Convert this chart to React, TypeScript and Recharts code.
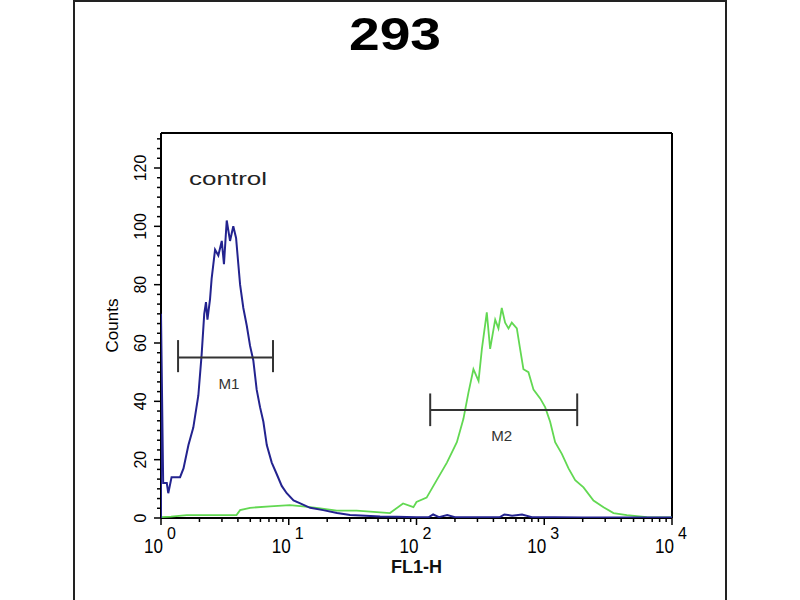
import React from 'react';
import { LineChart, Line, XAxis, YAxis, ReferenceLine, ReferenceDot, CartesianGrid } from 'recharts';

const TITLE = '293';
const X_LABEL = 'FL1-H';
const Y_LABEL = 'Counts';

const BLUE_X = [1, 1, 1.04, 1.11, 1.14, 1.21, 1.41, 1.5, 1.64, 1.79, 1.96, 2.08, 2.18, 2.25, 2.31, 2.42, 2.49, 2.65, 2.81, 2.99, 3.11, 3.27, 3.47, 3.68, 3.87, 4.03, 4.16, 4.41, 4.69, 4.98, 5.28, 5.61, 5.96, 6.33, 6.73, 7.36, 8.06, 8.81, 9.64, 10.9, 12.3, 14.7, 18.6, 23.9, 30.2, 40, 51.9, 70, 100, 125, 135, 150, 174, 200, 300, 450, 487, 560, 670, 800, 1200, 2000, 4000, 10000];
const BLUE_Y = [0, 70, 12, 12, 8.5, 14, 14, 17, 25, 31, 42, 56, 70, 74, 68, 75, 82, 92, 90, 95, 87, 102, 95, 100, 96, 87, 80, 72, 66, 59, 54, 44, 38, 33, 25, 19, 15, 11, 8.5, 6, 5, 3.5, 2.7, 1.7, 1, 0.8, 0.5, 0.4, 0.3, 0.3, 1.2, 0.3, 1, 0.3, 0.3, 0.3, 1.2, 0.8, 1.2, 0.3, 0.3, 0.2, 0.2, 0.2];

const GREEN_X = [1, 1.2, 1.59, 2.5, 3.9, 4.16, 4.98, 7.14, 10.2, 12.9, 16.5, 23.8, 34, 48.9, 62, 78.5, 94.6, 100, 120, 144, 173, 207, 233, 255, 279, 306, 325, 355, 377, 413, 438, 465, 494, 525, 557, 610, 647, 687, 752, 824, 929, 1016, 1112, 1217, 1373, 1549, 1747, 2029, 2429, 2910, 3484, 4433, 6355, 9680, 10000];
const GREEN_Y = [0.3, 0.5, 1, 1, 1, 2.7, 3.5, 4, 4.4, 4, 3.5, 2.5, 2.5, 2, 1.7, 5, 3.7, 5.5, 7, 13, 19, 26, 34, 43, 51, 47, 58, 70.5, 58, 68, 65, 72, 67, 65, 67, 65, 58, 51, 50, 44, 41, 38, 33, 26, 22, 17, 13, 10.5, 6, 3.7, 1.7, 1, 0.3, 0.2, 0.2];

const X_DECADES = [1, 10, 100, 1000, 10000];
const X_EXPONENTS = ['0', '1', '2', '3', '4'];
const Y_MAJOR = [0, 20, 40, 60, 80, 100, 120];
const Y_MAX = 132;

const M1 = { x1: 1.36, x2: 7.53, y: 55, lo: 50, hi: 61, lx: 3.4, ly: 46, name: 'M1' };
const M2 = { x1: 128, x2: 1811, y: 37, lo: 31.5, hi: 42.7, lx: 465, ly: 28, name: 'M2' };
const CONTROL = { x: 3.35, y: 116.5, text: 'control' };

const blueData = BLUE_X.map((x, i) => ({ x, y: BLUE_Y[i] }));
const greenData = GREEN_X.map((x, i) => ({ x, y: GREEN_Y[i] }));

const xTicks: number[] = [];
X_DECADES.forEach((d, i) => {
  if (i < X_DECADES.length - 1) {
    for (let k = 1; k <= 9; k++) xTicks.push(d * k);
  } else xTicks.push(d);
});
const yTicks: number[] = [];
for (let v = 0; v <= 130.01; v += 10 / 3) yTicks.push(Math.round(v * 1000) / 1000);

const FONT = '"Liberation Sans", Arial, sans-serif';

const XTick = (props: any) => {
  const { x, y, payload } = props;
  const v = payload.value;
  const idx = X_DECADES.indexOf(v);
  const major = idx >= 0;
  return (
    <g>
      <line x1={x} x2={x} y1={y} y2={y + (major ? 7 : 4)} stroke="#000" strokeWidth={1.5} />
      {major && (
        <g fontFamily={FONT} fill="#000">
          <text x={x - 17} y={y + 35} fontSize={20} textLength={19} lengthAdjust="spacingAndGlyphs">10</text>
          <text x={x + 6} y={y + 21} fontSize={16} textAnchor="start">{X_EXPONENTS[idx]}</text>
        </g>
      )}
    </g>
  );
};

const YTick = (props: any) => {
  const { x, y, payload } = props;
  const v = payload.value;
  const major = Y_MAJOR.some((m) => Math.abs(m - v) < 0.01);
  const lx = x - 15;
  return (
    <g>
      <line x1={x} x2={x - (major ? 7 : 4)} y1={y} y2={y} stroke="#000" strokeWidth={1.5} />
      {major && (
        <text x={lx} y={y} fontFamily={FONT} fontSize={16} textAnchor="middle" fill="#000" transform={`rotate(-90 ${lx} ${y})`}>
          {String(Math.round(v))}
        </text>
      )}
    </g>
  );
};

const stretchedLabel = (text: string, fontSize: number, length: number, color: string) => (props: any) => {
  const vb = props.viewBox || {};
  const cx = (vb.x ?? 0) + (vb.width ?? 0) / 2;
  const cy = (vb.y ?? 0) + (vb.height ?? 0) / 2;
  return (
    <text
      x={cx - length / 2}
      y={cy}
      dy="0.35em"
      fontFamily={FONT}
      fontSize={fontSize}
      fill={color}
      textLength={length}
      lengthAdjust="spacingAndGlyphs"
    >
      {text}
    </text>
  );
};

const MarkerBar = (m: typeof M1) => [
  <ReferenceLine key={m.name + 'h'} segment={[{ x: m.x1, y: m.y }, { x: m.x2, y: m.y }]} stroke="#333" strokeWidth={2} ifOverflow="visible" />,
  <ReferenceLine key={m.name + 'l'} segment={[{ x: m.x1, y: m.lo }, { x: m.x1, y: m.hi }]} stroke="#333" strokeWidth={2} ifOverflow="visible" />,
  <ReferenceLine key={m.name + 'r'} segment={[{ x: m.x2, y: m.lo }, { x: m.x2, y: m.hi }]} stroke="#333" strokeWidth={2} ifOverflow="visible" />,
  <ReferenceDot key={m.name + 't'} x={m.lx} y={m.ly} r={0} fill="none" stroke="none" label={stretchedLabel(m.name, 14, 21, '#333')} />,
];

export default function App() {
  return (
    <div style={{ position: 'absolute', left: 0, top: 0, width: 800, height: 600, background: '#fff', overflow: 'hidden' }}>
      <div
        style={{
          position: 'absolute',
          left: 73,
          top: 0,
          width: 654,
          height: 640,
          border: '2px solid #222',
          boxSizing: 'border-box',
        }}
      />
      <div
        style={{
          position: 'absolute',
          left: 0,
          width: 790,
          top: 8,
          textAlign: 'center',
          fontFamily: FONT,
          fontWeight: 'bold',
          fontSize: 46,
          lineHeight: '52px',
          color: '#000',
          transform: 'scaleX(1.2)',
          transformOrigin: '395px 0',
        }}
      >
        {TITLE}
      </div>
      <div style={{ position: 'absolute', left: 0, top: 0 }}>
        <LineChart width={800} height={600} margin={{ top: 133, right: 128, bottom: 22, left: 101 }}>
          <CartesianGrid
            horizontalValues={[0, Y_MAX]}
            verticalValues={[1, 10000]}
            stroke="#000"
            strokeWidth={2}
            strokeDasharray=""
            fill="none"
          />
          <XAxis
            dataKey="x"
            type="number"
            scale="log"
            domain={[1, 10000]}
            allowDataOverflow
            ticks={xTicks}
            interval={0}
            tick={<XTick />}
            tickLine={false}
            tickSize={0}
            tickMargin={0}
            axisLine={false}
            height={60}
            label={{ value: X_LABEL, position: 'insideBottom', offset: 5, fontSize: 18, fontWeight: 'bold', fontFamily: FONT, fill: '#111' }}
          />
          <YAxis
            dataKey="y"
            type="number"
            domain={[0, Y_MAX]}
            allowDataOverflow
            ticks={yTicks}
            interval={0}
            tick={<YTick />}
            tickLine={false}
            tickSize={0}
            tickMargin={0}
            axisLine={false}
            width={60}
            label={{ value: Y_LABEL, angle: -90, position: 'insideLeft', offset: 11, fontSize: 17, fontFamily: FONT, fill: '#000', style: { textAnchor: 'middle' } }}
          />
          <Line data={greenData} dataKey="y" stroke="#62d852" strokeWidth={1.8} dot={false} isAnimationActive={false} type="linear" />
          <Line data={blueData} dataKey="y" stroke="#23238f" strokeWidth={2} dot={false} isAnimationActive={false} type="linear" />
          {MarkerBar(M1)}
          {MarkerBar(M2)}
          <ReferenceDot x={CONTROL.x} y={CONTROL.y} r={0} fill="none" stroke="none" label={stretchedLabel(CONTROL.text, 19, 78, '#222')} />
        </LineChart>
      </div>
    </div>
  );
}
